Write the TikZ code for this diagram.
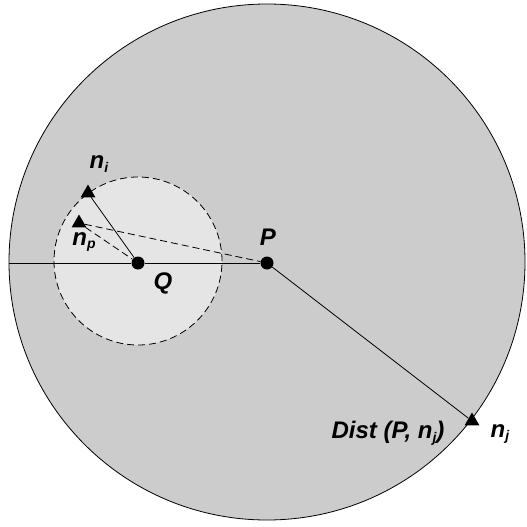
\documentclass[tikz,border=0pt]{standalone}
\usepackage{fontspec}
\setmainfont{Liberation Sans}
\usetikzlibrary{shapes.geometric}
\tikzset{
  lbl/.style={font=\bfseries\itshape\fontsize{24}{28}\selectfont},
  dot/.style={circle,fill,inner sep=0pt,minimum size=13pt},
  site/.style={regular polygon,regular polygon sides=3,fill,inner sep=0pt,minimum size=17pt},
  link/.style={line width=0.8pt},
  guess/.style={line width=0.8pt,dash pattern=on 7pt off 4pt},
}
\newcommand{\lowsub}[1]{\raisebox{-0.3ex}{\fontsize{14}{14}\selectfont #1}}
\begin{document}
\begin{tikzpicture}[x=1pt,y=-1pt]
  \useasboundingbox (0,0) rectangle (527,527);
  % search regions
  \filldraw[fill=black!20,draw=black,line width=0.8pt] (267,262) circle[radius=258pt];
  \filldraw[fill=black!10,draw=black,guess] (138,261) circle[radius=84pt];
  % points
  \coordinate (edge) at (9,263);
  \node[dot] (Q) at (138,263) {};
  \node[dot] (P) at (267,263) {};
  \node[site] (ni) at (88,193) {};
  \node[site] (np) at (79,223) {};
  \node[site] (nj) at (472,421) {};
  % distances
  \draw[link] (edge) -- (Q) (Q) -- (P);
  \draw[link] (Q) -- (ni);
  \draw[guess] (np) -- (Q);
  \draw[guess] (np) -- (P);
  \draw[link] (P) -- (nj);
  % labels
  \node[lbl] (lni) at (99,164) {n\lowsub{i}};
  \node[lbl] (lnp) at (84,242) {n\lowsub{p}};
  \node[lbl] (lP) at (268,237) {P};
  \node[lbl] (lQ) at (163,283) {Q};
  \node[lbl] (ldist) at (388,433) {Dist (P, n\lowsub{j})};
  \node[lbl] (lnj) at (500,434) {n\lowsub{j}};
\end{tikzpicture}
\end{document}
